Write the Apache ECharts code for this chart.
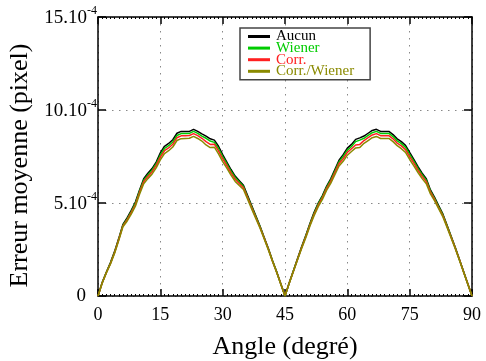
<!DOCTYPE html>
<html>
<head>
<meta charset="utf-8">
<script src="https://cdn.jsdelivr.net/npm/echarts@6/dist/echarts.min.js"></script>
<style>html,body{margin:0;padding:0;background:#fff;}#c{width:486px;height:361px;}</style>
</head>
<body>
<div id="c"></div>
<script>
// Angles (degrees), 0..90 step 1
const angles = [0,1,2,3,4,5,6,7,8,9,10,11,12,13,14,15,16,17,18,19,20,21,22,23,24,25,26,27,28,29,30,31,32,33,34,35,36,37,38,39,40,41,42,43,44,45,46,47,48,49,50,51,52,53,54,55,56,57,58,59,60,61,62,63,64,65,66,67,68,69,70,71,72,73,74,75,76,77,78,79,80,81,82,83,84,85,86,87,88,89,90];
// Mean error, in units of 1e-4 pixel
const aucun = [0,0.72,1.28,1.80,2.40,3.10,3.85,4.20,4.60,5.05,5.70,6.30,6.60,6.85,7.20,7.70,8.05,8.20,8.40,8.75,8.85,8.85,8.85,8.96,8.85,8.72,8.60,8.45,8.38,8.05,7.60,7.20,6.80,6.45,6.20,5.95,5.40,4.85,4.30,3.75,3.15,2.55,1.90,1.30,0.65,0,
  0.70,1.35,2.00,2.65,3.25,3.90,4.50,5.00,5.40,5.90,6.30,6.80,7.30,7.60,7.95,8.15,8.42,8.50,8.60,8.75,8.90,8.96,8.85,8.85,8.85,8.68,8.45,8.30,8.10,7.72,7.35,6.95,6.60,6.30,5.70,5.30,4.85,4.40,3.80,3.20,2.60,1.95,1.30,0.65,0];
const wiener = [0,0.71,1.26,1.77,2.37,3.07,3.81,4.15,4.54,4.99,5.64,6.22,6.51,6.76,7.11,7.58,7.93,8.08,8.28,8.63,8.73,8.73,8.74,8.85,8.74,8.60,8.48,8.33,8.26,7.93,7.49,7.11,6.71,6.37,6.13,5.89,5.34,4.80,4.26,3.72,3.12,2.53,1.89,1.29,0.65,0,
  0.69,1.34,1.98,2.62,3.22,3.86,4.45,4.95,5.35,5.84,6.23,6.72,7.21,7.50,7.84,8.04,8.30,8.38,8.48,8.63,8.78,8.85,8.74,8.74,8.74,8.57,8.34,8.19,7.99,7.61,7.25,6.86,6.52,6.23,5.64,5.25,4.80,4.36,3.77,3.17,2.58,1.94,1.29,0.65,0];
const corr = [0,0.70,1.25,1.75,2.34,3.04,3.77,4.09,4.48,4.92,5.57,6.14,6.43,6.67,7.02,7.47,7.81,7.96,8.16,8.51,8.61,8.62,8.63,8.73,8.62,8.48,8.30,8.15,8.16,7.80,7.38,7.01,6.62,6.28,6.05,5.82,5.28,4.74,4.21,3.68,3.10,2.51,1.87,1.28,0.64,0,
  0.68,1.32,1.96,2.59,3.18,3.82,4.39,4.88,5.28,5.77,6.15,6.63,7.12,7.38,7.72,7.92,8.12,8.15,8.36,8.51,8.66,8.73,8.62,8.62,8.62,8.45,8.22,8.07,7.87,7.49,7.14,6.77,6.43,6.15,5.58,5.19,4.74,4.31,3.74,3.14,2.56,1.93,1.28,0.64,0];
const corrWiener = [0,0.69,1.24,1.72,2.30,2.99,3.72,4.02,4.40,4.83,5.47,6.03,6.31,6.55,6.89,7.32,7.66,7.81,8.01,8.36,8.46,8.47,8.48,8.58,8.47,8.33,8.12,7.98,8.00,7.64,7.22,6.87,6.50,6.16,5.94,5.73,5.20,4.67,4.15,3.64,3.06,2.48,1.86,1.27,0.63,0,
  0.67,1.31,1.93,2.55,3.13,3.77,4.32,4.80,5.19,5.68,6.05,6.52,6.99,7.24,7.57,7.77,7.96,7.98,8.21,8.36,8.51,8.58,8.47,8.47,8.47,8.30,8.08,7.92,7.72,7.34,7.00,6.64,6.31,6.04,5.49,5.11,4.68,4.25,3.69,3.10,2.53,1.91,1.27,0.63,0];
const seriesNames = ['Aucun','Wiener','Corr.','Corr./Wiener'];
const seriesColors = ['#000000','#00cc00','#ff2020','#8a8a00'];
const xTicks = [0,15,30,45,60,75,90];
const yTicks = [0,5,10,15];

const chart = echarts.init(document.getElementById('c'), null, {renderer:'canvas'});
const FONT = 'Liberation Serif';
const pair = a => angles.map((x,i)=>[x,a[i]]);
const all = [aucun, wiener, corr, corrWiener];
const axisLineStyle = {color:'#000', width:1.5};
const option = {
  animation:false,
  backgroundColor:'#fff',
  grid:{left:98, right:14, top:17, bottom:65, containLabel:false, outerBoundsMode:'none'},
  legend:{
    orient:'vertical', left:240, top:28,
    data: seriesNames.map((n,i)=>({name:n, icon:'rect', textStyle:{color:seriesColors[i]}})),
    itemWidth:22, itemHeight:3, itemGap:-3.4,
    padding:[1,16,1,8],
    borderColor:'#444', borderWidth:1.5, backgroundColor:'#fff',
    textStyle:{fontFamily:FONT, fontSize:15, lineHeight:12.5, padding:[0,0,0,1]}
  },
  xAxis:[{
    type:'value', min:0, max:90, interval:15,
    name:'Angle (degré)', nameLocation:'middle', nameGap:38,
    nameTextStyle:{fontFamily:FONT, fontSize:26, color:'#000'},
    axisLine:{lineStyle:axisLineStyle},
    axisTick:{inside:true, length:7, lineStyle:{color:'#000', width:1.5}},
    minorTick:{show:true, splitNumber:15, length:2, lineStyle:{color:'#000', width:1}},
    axisLabel:{fontFamily:FONT, fontSize:18, color:'#000', margin:10,
      formatter: v => xTicks.includes(v) ? String(v) : ''},
    splitLine:{show:true, lineStyle:{color:'#888', type:[1.5,5.5], width:1}}
  },{
    type:'value', min:0, max:90, interval:15, position:'top',
    axisLine:{onZero:false, lineStyle:axisLineStyle},
    axisTick:{inside:true, length:7, lineStyle:{color:'#000', width:1.5}},
    minorTick:{show:true, splitNumber:15, length:2, lineStyle:{color:'#000', width:1}},
    axisLabel:{show:false}, splitLine:{show:false}
  }],
  yAxis:[{
    type:'value', min:0, max:15, interval:5,
    name:'Erreur moyenne (pixel)', nameLocation:'middle', nameGap:53,
    nameTextStyle:{fontFamily:FONT, fontSize:26, color:'#000', padding:[0,18,0,0]},
    axisLine:{lineStyle:axisLineStyle},
    axisTick:{inside:true, length:8, lineStyle:{color:'#000', width:1.5}},
    axisLabel:{margin:1, color:'#000',
      formatter: v => yTicks.includes(v) ? (v===0 ? '{z|0}' : '{m|'+v+'.10}{s|-4}') : '',
      rich:{
        z:{fontFamily:FONT, fontSize:19, color:'#000', padding:[0,11,0,0], lineHeight:19},
        m:{fontFamily:FONT, fontSize:19, color:'#000', lineHeight:19, verticalAlign:'middle', padding:[3,0,0,0]},
        s:{fontFamily:FONT, fontSize:12, color:'#000', lineHeight:12, verticalAlign:'middle', padding:[0,0,13,0]}
      }},
    splitLine:{show:true, lineStyle:{color:'#888', type:[1.5,5.5], width:1}}
  },{
    type:'value', min:0, max:15, interval:5, position:'right',
    axisLine:{onZero:false, lineStyle:axisLineStyle},
    axisTick:{inside:true, length:8, lineStyle:{color:'#000', width:1.5}},
    axisLabel:{show:false}, splitLine:{show:false}
  }],
  series: all.map((arr,i)=>({
    name:seriesNames[i], type:'line', data:pair(arr), showSymbol:false, symbol:'none',
    lineStyle:{color:seriesColors[i], width:1.5}, itemStyle:{color:seriesColors[i]},
    xAxisIndex:0, yAxisIndex:0
  }))
};
chart.setOption(option);
</script>
</body>
</html>
